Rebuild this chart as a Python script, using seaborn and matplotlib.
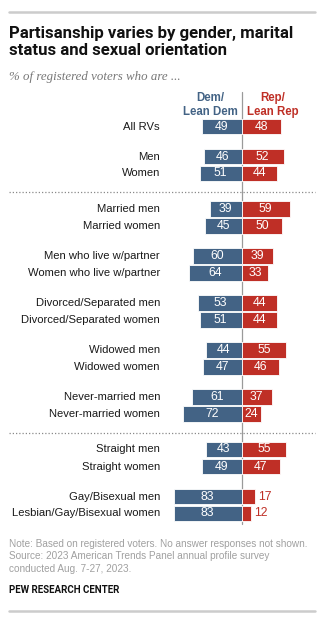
import matplotlib
matplotlib.use("Agg")
import matplotlib.pyplot as plt
import seaborn as sns
import pandas as pd
import numpy as np

# ---- data ----
groups = [
    ["All RVs"],
    ["Men", "Women"],
    ["Married men", "Married women"],
    ["Men who live w/partner", "Women who live w/partner"],
    ["Divorced/Separated men", "Divorced/Separated women"],
    ["Widowed men", "Widowed women"],
    ["Never-married men", "Never-married women"],
    ["Straight men", "Straight women"],
    ["Gay/Bisexual men", "Lesbian/Gay/Bisexual women"],
]
dem = [49, 46, 51, 39, 45, 60, 64, 53, 51, 44, 47, 61, 72, 43, 49, 83, 83]
rep = [48, 52, 44, 59, 50, 39, 33, 44, 44, 55, 46, 37, 24, 55, 47, 17, 12]
section_breaks_after_group = [1, 6]  # dotted separators after these group indices

title = "Partisanship varies by gender, marital\nstatus and sexual orientation"
subtitle = "% of registered voters who are ..."
dem_header = "Dem/\nLean Dem"
rep_header = "Rep/\nLean Rep"
note = ("Note: Based on registered voters. No answer responses not shown.\n"
        "Source: 2023 American Trends Panel annual profile survey\n"
        "conducted Aug. 7-27, 2023.")
source = "PEW RESEARCH CENTER"

BLUE = "#436385"
RED = "#bf2f26"
GREY_TXT = "#a0a0a0"

# ---- layout (pixel-based vertical coordinates) ----
W, H = 327, 625
ROW = 17
GAP = 13
SEP_EXTRA = 5.5
ZERO_PX = 241.5
SCALE = 0.815  # px per percentage point

labels, ypos, seps = [], [], []
y = 126.5
for gi, g in enumerate(groups):
    for lab in g:
        labels.append(lab)
        ypos.append(y)
        y += ROW
    last = y - ROW
    if gi in section_breaks_after_group:
        seps.append(last + (ROW + GAP + SEP_EXTRA) / 2 + 1)
        y += GAP + SEP_EXTRA
    else:
        y += GAP

df = pd.DataFrame({"label": labels, "y": ypos, "dem": dem, "rep": rep})
df["dem_neg"] = -df["dem"]

sns.set_theme(style="white")
plt.rcParams["font.family"] = ["Liberation Sans", "DejaVu Sans"]

fig = plt.figure(figsize=(W / 100, H / 100), dpi=100)
ax = fig.add_axes([0, 0, 1, 1])

bar_w = 15.5 / ROW
sns.barplot(data=df, x="dem_neg", y="y", orient="h", native_scale=True,
            color=BLUE, saturation=1, width=bar_w, errorbar=None, ax=ax,
            edgecolor="white", linewidth=0.6)
sns.barplot(data=df, x="rep", y="y", orient="h", native_scale=True,
            color=RED, saturation=1, width=bar_w, errorbar=None, ax=ax,
            edgecolor="white", linewidth=0.6)

ax.set_xlim(-ZERO_PX / SCALE, (W - ZERO_PX) / SCALE)
ax.set_ylim(H, 0)
ax.axis("off")

def px2x(px):
    return (px - ZERO_PX) / SCALE

# value labels
for _, r in df.iterrows():
    ax.text(-r["dem"] / 2, r["y"], f"{r['dem']}", ha="center", va="center",
            color="white", fontsize=8.8)
    if r["rep"] >= 20:
        ax.text(r["rep"] / 2, r["y"], f"{r['rep']}", ha="center", va="center",
                color="white", fontsize=8.8)
    else:
        ax.text(r["rep"] + 3, r["y"], f"{r['rep']}", ha="left", va="center",
                color=RED, fontsize=8.8)
    ax.text(px2x(160), r["y"], r["label"], ha="right", va="center",
            color="#1a1a1a", fontsize=8.1)

# center line
ax.plot([0, 0], [92, 524], color="#9a9a9a", lw=0.9, zorder=0.5)

# headers
ax.text(px2x(210), 105, dem_header, ha="center", va="center", color=BLUE,
        fontsize=8.3, fontweight="bold", linespacing=1.2)
ax.text(px2x(273), 105, rep_header, ha="center", va="center", color=RED,
        fontsize=8.3, fontweight="bold", linespacing=1.2)

# separators
for s in seps:
    ax.plot([px2x(9), px2x(315)], [s, s], color="#8a8a8a", lw=0.9,
            linestyle=(0, (1, 1.6)))

# top / bottom rules
ax.plot([px2x(9), px2x(315)], [12, 12], color="#cccccc", lw=1.8)
ax.plot([px2x(9), px2x(315)], [611, 611], color="#cccccc", lw=1.8)

# title & subtitle
fig.text(9 / W, 1 - 26 / H, title, ha="left", va="top", fontsize=12.1,
         fontweight="bold", color="#111111", linespacing=1.2,
         family=["Roboto", "DejaVu Sans"])
fig.text(9 / W, 1 - 77 / H, subtitle, ha="left", va="center", fontsize=9.3,
         style="italic", color="#777777", family=["Liberation Serif", "DejaVu Serif"])

# footer
fig.text(9 / W, 1 - 539 / H, note, ha="left", va="top", fontsize=7.2,
         color=GREY_TXT, linespacing=1.3)
fig.text(9 / W, 1 - 590 / H, source, ha="left", va="center", fontsize=7.0,
         fontweight="bold", color="#111111", family=["Roboto", "DejaVu Sans"])

fig.savefig("out.png", dpi=100, facecolor="white")
